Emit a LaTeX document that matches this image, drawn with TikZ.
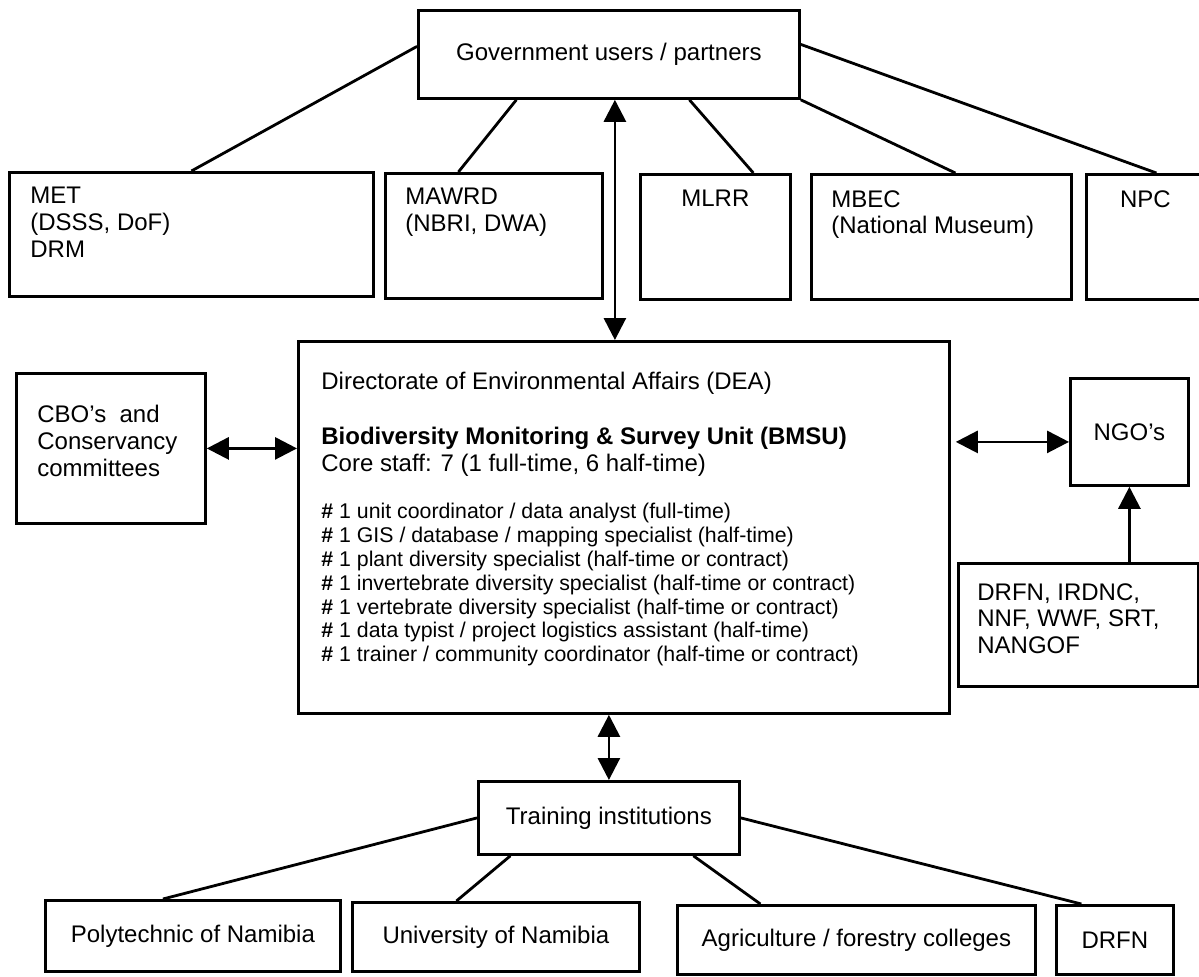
\documentclass[tikz,border=0pt]{standalone}
\usepackage{fontspec}
\setmainfont{Liberation Sans}
\usetikzlibrary{arrows.meta,calc}

\begin{document}
\begin{tikzpicture}[x=0.5pt, y=-0.5pt,
    box/.style={draw, line width=1.4pt, inner sep=0pt, anchor=north west,
        font=\fontsize{12}{13.3}\selectfont},
    link/.style={line width=1.4pt},
    tip/.style={-{Triangle[length=11pt, width=11pt]}},
    tips/.style={{Triangle[length=11pt, width=11pt]}-{Triangle[length=11pt, width=11pt]}},
    txt/.style={inner sep=0pt, align=left, font=\fontsize{12}{13.3}\selectfont},
    smalltxt/.style={inner sep=0pt, align=left, font=\fontsize{10.65}{11.9}\selectfont}]

        % page -- -- -- -- -- -- -- -- -- -- -- -- -- -- -- -- -- -- --
        \useasboundingbox (0,0) rectangle (1199,976);
        \clip (0,0) rectangle (1199,976);

        % Government users --  --  --  --  --  --  --  --  --  --  --  --
        \node[box, minimum width=190.5pt, minimum height=44pt] (gov) at (417,9) {Government users / partners};

        \node[box, minimum width=182pt, minimum height=62pt] (met) at (8,171) {};
        \node[box, minimum width=108.5pt, minimum height=62.5pt] (mawrd) at (384,172) {};
        \node[box, minimum width=75pt, minimum height=62.5pt] (mlrr) at (639,173) {};
        \node[box, minimum width=130pt, minimum height=62.5pt] (mbec) at (810,173) {};
        \node[box, minimum width=59pt, minimum height=62.5pt] (npc) at (1085,173) {};

        % box texts
        \node[txt, anchor=north west] (mettxt) at (30,187) {MET\\(DSSS, DoF)\\DRM};
        \node[txt, anchor=north west] (mawrdtxt) at (405,188) {MAWRD\\(NBRI, DWA)};
        \node[txt, anchor=north] (mlrrtxt) at ($(mlrr.north)+(0,17)$) {MLRR};
        \node[txt, anchor=north west] (mbectxt) at (831,190) {MBEC\\(National Museum)};
        \node[txt, anchor=north] (npctxt) at ($(npc.north)+(0,17)$) {NPC};

        % lines to the ministries
        \draw[link] ($(gov.west)+(0,-8)$) -- (met.north);
        \draw[link] ($(gov.south)+(-92.5,0)$) -- ($(mawrd.north)+(-35.5,0)$);
        \draw[link] ($(gov.south)+(80.5,0)$) -- ($(mlrr.north)+(38,0)$);
        \draw[link] (gov.south east) -- ($(mbec.north)+(14,0)$);
        \draw[link] ($(gov.east)+(0,-10)$) -- ($(npc.north)+(11,0)$);
        %  --  --  --  --  --  --  --  --  --  --  --  --  --  --  --  --

        % DEA / BMSU  --  --  --  --  --  --  --  --  --  --  --  --  --
        \node[box, minimum width=325.5pt, minimum height=186pt] (bmsu) at (297,340) {};

        \node[txt, anchor=north west] (deatxt) at (321,372) {Directorate of Environmental Affairs (DEA)};
        \node[txt, anchor=north west] (bmsutxt) at (321,427)
            {\textbf{Biodiversity Monitoring \& Survey Unit (BMSU)}\\Core staff: 7 (1 full-time, 6 half-time)};
        \node[smalltxt, anchor=north west] (stafftxt) at (321,503)
            {\textbf{\#} 1 unit coordinator / data analyst (full-time)\\
             \textbf{\#} 1 GIS / database / mapping specialist (half-time)\\
             \textbf{\#} 1 plant diversity specialist (half-time or contract)\\
             \textbf{\#} 1 invertebrate diversity specialist (half-time or contract)\\
             \textbf{\#} 1 vertebrate diversity specialist (half-time or contract)\\
             \textbf{\#} 1 data typist / project logistics assistant (half-time)\\
             \textbf{\#} 1 trainer / community coordinator (half-time or contract)};

        % arrow up to government
        \coordinate (govtip) at ($(gov.south)+(6,0)$);
        \draw[link, tips] (govtip) -- (govtip |- bmsu.north);
        %  --  --  --  --  --  --  --  --  --  --  --  --  --  --  --  --

        % Side partners --  --  --  --  --  --  --  --  --  --  --  --  --
        \node[box, minimum width=94.5pt, minimum height=75pt] (cbo) at (15,372) {};
        \node[txt, anchor=north west] (cbotxt) at (37,405) {CBO's \ and\\Conservancy\\committees};
        \draw[link, tips] (cbo.east) -- (cbo.east -| bmsu.west);

        \node[box, minimum width=59pt, minimum height=53.5pt] (ngo) at (1069,377) {NGO's};
        \coordinate (ngoend) at ($(ngo.west)+(0,10)$);
        \draw[link, tips] ($(ngoend -| bmsu.east)+(5,0)$) -- (ngoend);

        \node[box, minimum width=120pt, minimum height=61.5pt] (ngolist) at (957,562) {};
        \node[txt, anchor=north west] (ngolisttxt) at (977,583) {DRFN, IRDNC,\\NNF, WWF, SRT,\\NANGOF};
        \draw[link, tip] (ngo.south |- ngolist.north) -- (ngo.south);
        %  --  --  --  --  --  --  --  --  --  --  --  --  --  --  --  --

        % Training institutions --  --  --  --  --  --  --  --  --  --  --
        \node[box, minimum width=130.5pt, minimum height=36.5pt] (train) at (477,780) {Training institutions};
        \draw[link, tips] (train.north |- bmsu.south) -- (train.north);

        \node[box, minimum width=147.5pt, minimum height=35.5pt] (poly) at (44,899) {Polytechnic of Namibia};
        \node[box, minimum width=143.5pt, minimum height=34.5pt] (unam) at (351,901) {University of Namibia};
        \node[box, minimum width=179pt, minimum height=34.5pt] (agri) at (676,904) {Agriculture / forestry colleges};
        \node[box, minimum width=58.5pt, minimum height=34.5pt] (drfn) at (1055,904) {DRFN};

        \draw[link] (train.west) -- ($(poly.north)+(-30,0)$);
        \draw[link] ($(train.south)+(-98.5,0)$) -- ($(unam.north)+(-39.5,0)$);
        \draw[link] ($(train.south)+(84.5,0)$) -- ($(agri.north)+(-96,0)$);
        \draw[link] (train.east) -- ($(drfn.north)+(-33.5,0)$);
        %  --  --  --  --  --  --  --  --  --  --  --  --  --  --  --  --
\end{tikzpicture}
\end{document}
